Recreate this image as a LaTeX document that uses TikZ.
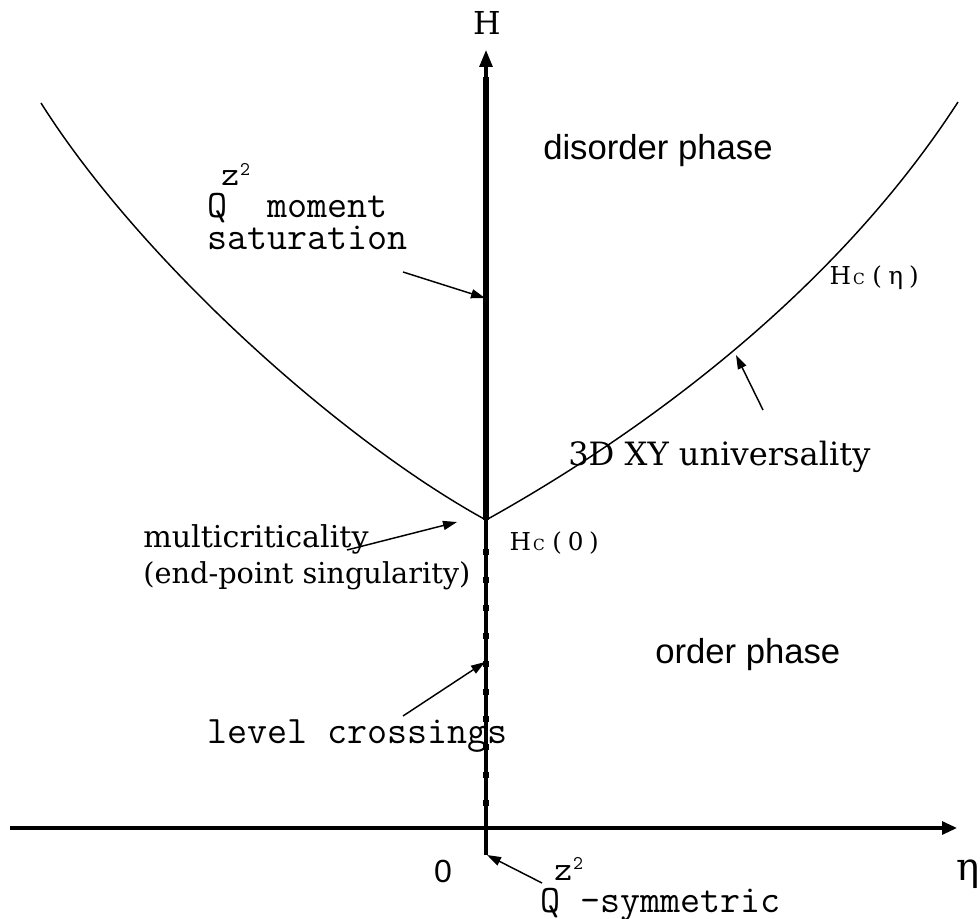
\documentclass[tikz,border=0pt]{standalone}
\usepackage{fontspec}
\setsansfont{Liberation Sans}
\newfontfamily\dvserif{DejaVu Serif}
\usetikzlibrary{arrows.meta}
\newcommand{\cellbox}[1]{\makebox[13.8pt][c]{#1}}
\newcommand{\zsq}{\rlap{\hspace{-4.5pt}\raisebox{24pt}{\fontsize{26}{28}\selectfont z\hspace{0.8pt}\raisebox{8pt}{\fontsize{14.5}{16}\selectfont 2}}}}
\begin{document}
\begin{tikzpicture}[x=0.75pt,y=-0.75pt,
  mono/.style={font=\fontsize{29.2}{24}\selectfont\ttfamily, inner sep=0pt},
  sans/.style={font=\fontsize{26}{30}\selectfont\sffamily, inner sep=0pt},
  serif/.style={font=\fontsize{23}{28}\selectfont\dvserif, inner sep=0pt},
  serifsmall/.style={font=\fontsize{18.5}{22}\selectfont\dvserif, inner sep=0pt},
  axis/.style={line width=2.3pt},
  curve/.style={line width=1.1pt},
  pointer/.style={line width=1.1pt, -{Triangle[length=10.5pt,width=6.8pt]}}]
\useasboundingbox (0,0) rectangle (980,919);

% key points
\coordinate (Top) at (486,50);
\coordinate (Tk) at (486,77);
\coordinate (M) at (486,520);
\coordinate (Bot) at (486,855);
\coordinate (L) at (10,828);
\coordinate (R) at (957,828);
\coordinate (CL) at (41,103);
\coordinate (CR) at (958,102);

% axes
\draw[axis, -{Triangle[length=12.75pt,width=9.75pt]}] (Bot) -- (Top);
\draw[line width=4.9pt] (Tk) -- (M);
\draw[axis, -{Triangle[length=11.25pt,width=9.75pt]}] (L) -- (R);
\foreach \k in {0,...,9}
  \fill (483,{549+27.9*\k}) rectangle ++(6,6);

% critical line
\draw[curve] (M) .. controls (340,440) and (140,260) .. (CL);
\draw[curve] (M) .. controls (630,440) and (830,300) .. (CR);

% phase labels
\node[sans, anchor=base west] (dis) at (543,160) {disorder phase};
\node[sans, anchor=base west] (ord) at (655,663) {order phase};
\node[sans, anchor=base, font=\fontsize{24}{28}\selectfont\sffamily] (zero) at (443,882) {0};
\node[serif, anchor=base, font=\fontsize{23.7}{28}\selectfont\dvserif] (H) at (487,35) {H};
\node[anchor=base, inner sep=0pt, font=\fontsize{29}{32}\selectfont\dvserif] (eta) at (968,880) {η};

% Q moment saturation
\node[mono, anchor=base west, align=left] (qm) at (207,250) {Q\zsq\ \ moment\\saturation};
\coordinate (p1s) at (403,272);
\coordinate (p1e) at (485,298);
\draw[pointer] (p1s) -- (p1e);

% Hc(eta)
\node[serifsmall, anchor=base west] (hce) at (831,285)
  {\cellbox{H}\cellbox{{\fontsize{11.5}{12}\selectfont C}}\cellbox{(}\cellbox{η}\cellbox{)}};
% Hc(0)
\node[serifsmall, anchor=base west] (hc0) at (511,550)
  {\cellbox{H}\cellbox{{\fontsize{11.5}{12}\selectfont C}}\cellbox{(}\cellbox{0}\cellbox{)}};

% 3D XY
\node[serif, anchor=base west, font=\fontsize{24.1}{28}\selectfont\dvserif] (xy) at (568,465) {3D XY universality};
\coordinate (p2s) at (763,410);
\coordinate (p2e) at (736,355);
\draw[pointer] (p2s) -- (p2e);

% multicriticality
\node[serif, anchor=base west, font=\fontsize{22.6}{28}\selectfont\dvserif] (mc1) at (143,547) {multicriticality};
\node[serif, anchor=base west, font=\fontsize{21.6}{28}\selectfont\dvserif] (mc2) at (143,583) {(end-point singularity)};
\coordinate (p3s) at (347,550);
\coordinate (p3e) at (457,522);
\draw[pointer] (p3s) -- (p3e);

% level crossings
\node[mono, anchor=base west] (lc) at (207,743) {level crossings};
\coordinate (p4s) at (403,716);
\coordinate (p4e) at (485,662);
\draw[pointer] (p4s) -- (p4e);

% Q -symmetric
\node[mono, anchor=base west] (qs) at (540,912) {Q\zsq\ -symmetric};
\coordinate (p5s) at (542,883);
\coordinate (p5e) at (487,855);
\draw[pointer] (p5s) -- (p5e);
\end{tikzpicture}
\end{document}
